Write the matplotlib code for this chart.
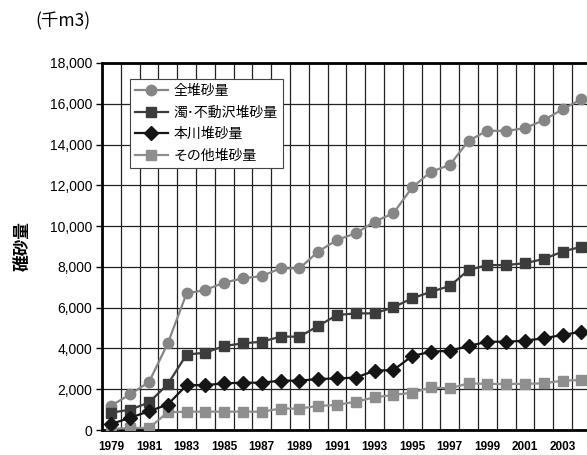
import matplotlib
matplotlib.use("Agg")
import matplotlib.pyplot as plt
import numpy as np

plt.rcParams['font.family'] = ['Noto Sans CJK JP', 'DejaVu Sans']

# 年別の累計堆砂量 (千m3)
years = list(range(1979, 2005))
total = [1200, 1750, 2350, 4250, 6700, 6870, 7230, 7440, 7550, 7930, 7930, 8750, 9320,
         9650, 10220, 10630, 11900, 12670, 13000, 14190, 14680, 14670, 14800, 15200,
         15730, 16220]
nigori = [850, 1000, 1350, 2250, 3700, 3790, 4120, 4250, 4330, 4580, 4580, 5100, 5640,
          5720, 5720, 6020, 6460, 6780, 7060, 7850, 8090, 8090, 8180, 8390, 8750, 8990]
honsen = [300, 600, 920, 1250, 2200, 2200, 2290, 2320, 2320, 2420, 2420, 2500, 2530,
          2570, 2910, 2940, 3630, 3840, 3890, 4120, 4330, 4330, 4380, 4500, 4660, 4820]
other = [50, 100, 100, 870, 900, 900, 900, 900, 900, 1050, 1050, 1180, 1230, 1390, 1600,
         1720, 1830, 2090, 2040, 2290, 2260, 2260, 2260, 2290, 2420, 2450]

labels = ['全堆砂量', '濁･不動沢堆砂量', '本川堆砂量', 'その他堆砂量']
yticks = list(range(0, 18001, 2000))

fig = plt.figure(figsize=(5.87, 4.55), dpi=100)
ax = fig.add_axes([102 / 587, 25 / 455, 507.6 / 587, 367 / 455])

ax.plot(years, total, '-o', color='#858585', lw=1.6, ms=7.5, label=labels[0], zorder=3)
ax.plot(years, nigori, '-s', color='#3c3c3c', lw=1.6, ms=7, label=labels[1], zorder=3)
ax.plot(years, honsen, '-D', color='#151515', lw=1.6, ms=7, label=labels[2], zorder=4)
ax.plot(years, other, '-s', color='#8e8e8e', lw=1.6, ms=7, label=labels[3], zorder=3)

ax.set_xlim(1978.5, 2005.5)
ax.set_ylim(0, 18000)

# 目盛り: 横軸は2年おき、縦の罫線は各年の境界
ax.set_xticks(years[::2])
ax.set_xticklabels([str(y) for y in years[::2]], family='Liberation Sans',
                   fontsize=8.5, fontweight='bold')
ax.set_xticks(np.arange(1978.5, 2006, 1), minor=True)
ax.set_yticks(yticks)
ax.set_yticklabels(['{:,}'.format(v) for v in yticks], family='Liberation Sans',
                   fontsize=10)
ax.tick_params(axis='x', which='both', length=0, pad=8)
ax.tick_params(axis='y', length=4, width=1, direction='out', pad=3)

ax.grid(True, axis='x', which='minor', color='#222222', lw=0.9)
ax.grid(True, axis='y', which='major', color='#222222', lw=0.9)
ax.set_axisbelow(True)

for side in ['left', 'bottom', 'top']:
    ax.spines[side].set_linewidth(2)
    ax.spines[side].set_color('black')
ax.spines['right'].set_visible(False)

ax.set_ylabel('碓砂量', fontsize=12, fontweight='bold', labelpad=13)
fig.text(35 / 587, 1 - 21 / 455, '(千m3)', fontsize=12.5, va='center', ha='left')

leg = ax.legend(loc='upper left', bbox_to_anchor=(0.055, 0.956), borderaxespad=0,
                fontsize=10, fancybox=False, edgecolor='#444444', framealpha=1,
                handlelength=2.4, handletextpad=0.4, labelspacing=0.55,
                borderpad=0.35)
leg.get_frame().set_linewidth(0.8)

fig.savefig('out.png', dpi=100)
